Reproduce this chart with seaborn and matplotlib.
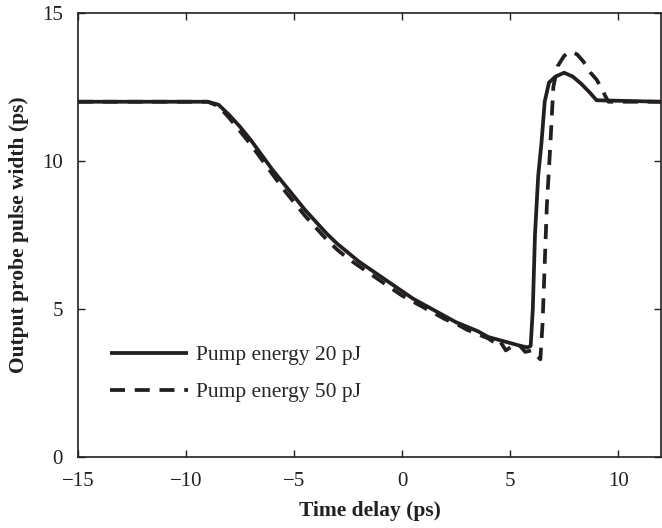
import pandas as pd
import seaborn as sns
import matplotlib.pyplot as plt

# pump energy 20 pJ (solid)
t20 = [-15, -9, -8.5, -8, -7.5, -7, -6.5, -6, -5.5, -5, -4.5, -4, -3.5, -3,
       -2.5, -2, -1.5, -1, -0.5, 0, 0.5, 1, 1.5, 2, 2.5, 3, 3.5, 4, 4.5, 5,
       5.5, 5.8, 5.95, 6.05, 6.15, 6.3, 6.45, 6.6, 6.8, 7.1, 7.5, 7.9, 8.3,
       8.7, 9.0, 12]
w20 = [12, 12, 11.9, 11.55, 11.15, 10.7, 10.2, 9.7, 9.25, 8.8, 8.35, 7.95,
       7.55, 7.2, 6.9, 6.6, 6.35, 6.1, 5.85, 5.6, 5.35, 5.15, 4.95, 4.75, 4.55,
       4.4, 4.25, 4.05, 3.95, 3.85, 3.75, 3.7, 3.75, 5.0, 7.5, 9.5, 10.6, 12.0,
       12.65, 12.85, 12.98, 12.85, 12.6, 12.3, 12.05, 12]

# pump energy 50 pJ (dashed)
t50 = [-15, -9, -8.5, -8, -7.5, -7, -6.5, -6, -5.5, -5, -4.5, -4, -3.5, -3,
       -2.5, -2, -1.5, -1, -0.5, 0, 0.5, 1, 1.5, 2, 2.5, 3, 3.5, 4, 4.3, 4.5,
       4.8, 5.1, 5.4, 5.7, 6.0, 6.4, 6.5, 6.6, 6.7, 6.85, 7.0, 7.2, 7.5, 7.8,
       8.1, 8.4, 8.7, 9.0, 9.2, 9.4, 9.55, 12]
w50 = [12, 12, 11.85, 11.45, 11.0, 10.55, 10.05, 9.55, 9.05, 8.6, 8.15, 7.75,
       7.35, 7.0, 6.7, 6.45, 6.2, 5.95, 5.7, 5.45, 5.25, 5.05, 4.85, 4.65, 4.5,
       4.3, 4.15, 4.0, 3.85, 3.95, 3.6, 3.75, 3.8, 3.55, 3.6, 3.3, 4.5, 6.5,
       8.5, 10.4, 12.5, 13.2, 13.55, 13.7, 13.6, 13.35, 13.0, 12.75, 12.5,
       12.2, 12.0, 12]

labels = ['Pump energy 20 pJ', 'Pump energy 50 pJ']

df = pd.concat([
    pd.DataFrame({'t': t20, 'w': w20, 'series': labels[0]}),
    pd.DataFrame({'t': t50, 'w': w50, 'series': labels[1]}),
])

sns.set_style('ticks')
plt.rcParams['font.family'] = ['Liberation Serif', 'DejaVu Serif']

ink = '#231f20'
fig = plt.figure(figsize=(6.62, 5.28), dpi=100)
ax = fig.add_axes([0.118, 0.1345, 0.881, 0.841])

sns.lineplot(data=df, x='t', y='w', hue='series', style='series',
             palette=[ink, ink], dashes=[(1, 0), (4, 2.6)],
             linewidth=2.7, sort=False, estimator=None, ax=ax)

ax.set_xlim(-15, 12)
ax.set_ylim(0, 15)
ax.set_xticks([-15, -10, -5, 0, 5, 10])
ax.set_xticklabels(['\u221215', '\u221210', '\u22125', '0', '5', '10'])
ax.set_yticks([0, 5, 10, 15])
ax.tick_params(direction='in', top=True, right=True, length=5, width=1,
               labelsize=15, pad=11, colors=ink)
for s in ax.spines.values():
    s.set_linewidth(1.2)
    s.set_color(ink)

ax.set_xlabel('Time delay (ps)', fontsize=15.5, fontweight='bold',
              labelpad=7, color=ink)
ax.set_ylabel('Output probe pulse width (ps)', fontsize=15.5,
              fontweight='bold', labelpad=9, color=ink)

ax.legend(loc='upper left', bbox_to_anchor=(0.055, 0.252), frameon=False,
          fontsize=15.5, handlelength=3.6, handletextpad=0.4,
          labelspacing=0.8, borderpad=0, borderaxespad=0)

fig.savefig('out.png', dpi=100)
